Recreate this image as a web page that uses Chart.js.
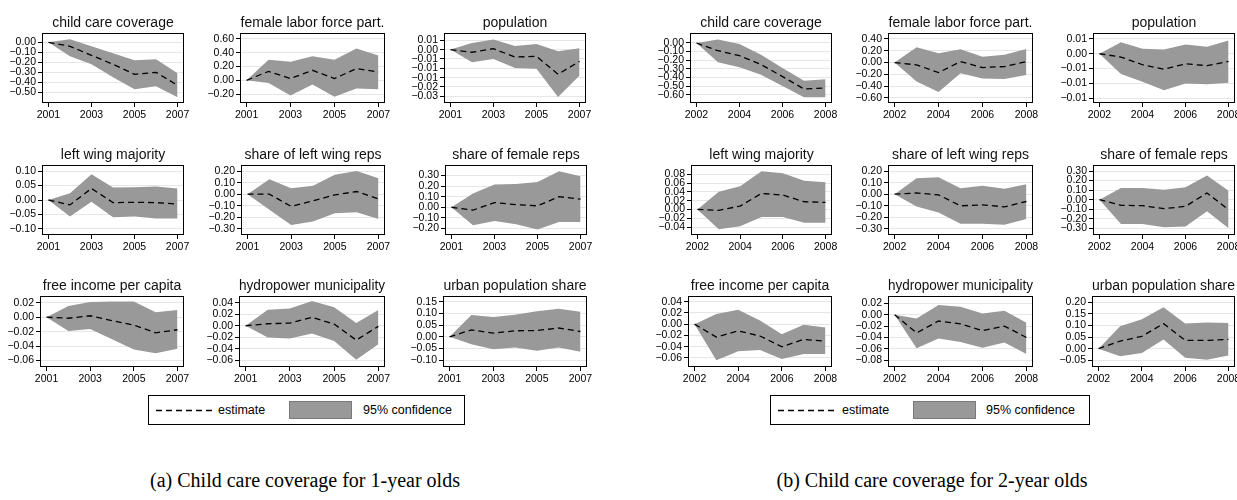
<!DOCTYPE html>
<html><head><meta charset="utf-8">
<script src="https://cdn.jsdelivr.net/npm/chart.js@4.4.1/dist/chart.umd.min.js"></script>
<style>
html,body{margin:0;padding:0;background:#fff}
body{width:1237px;height:500px;overflow:hidden;position:relative;font-family:"Liberation Sans",Arial,sans-serif;color:#000}
.lg{position:absolute;border:1px solid #000;box-sizing:border-box}
.lt{position:absolute;font-size:12.5px;line-height:14px;white-space:nowrap}
.gb{position:absolute;background:#999;border:1px solid #7a7a7a;box-sizing:border-box}
.cap{position:absolute;font-family:"Liberation Serif","Times New Roman",serif;font-size:20px;text-align:center;white-space:nowrap}
</style></head><body>
<script>
// ---------- data ----------
const yearsA = [2001,2002,2003,2004,2005,2006,2007];
const yearsB = [2002,2003,2004,2005,2006,2007,2008];
const xTicksA = [2001,2003,2005,2007];
const xTicksB = [2002,2004,2006,2008];
const titles = ["child care coverage","female labor force part.","population","left wing majority","share of left wing reps","share of female reps","free income per capita","hydropower municipality","urban population share"];

// (a) 1-year olds
const a1_est = [0,-0.04,-0.13,-0.22,-0.32,-0.30,-0.43];
const a1_hi  = [0,0.03,-0.04,-0.11,-0.18,-0.17,-0.31];
const a1_lo  = [0,-0.14,-0.22,-0.35,-0.47,-0.44,-0.55];
const a2_est = [0,0.13,0.025,0.145,0.025,0.17,0.12];
const a2_hi  = [0,0.30,0.27,0.35,0.30,0.46,0.36];
const a2_lo  = [0,-0.04,-0.22,-0.06,-0.24,-0.12,-0.13];
const a3_est = [0,-0.0014,0.0005,-0.004,-0.0036,-0.0132,-0.0063];
const a3_hi  = [0,0.0036,0.0054,0.002,0.003,-0.0009,0.0007];
const a3_lo  = [0,-0.0068,-0.005,-0.0098,-0.0102,-0.0254,-0.0139];
const a4_est = [0,-0.017,0.040,-0.009,-0.008,-0.009,-0.014];
const a4_hi  = [0,0.023,0.089,0.043,0.044,0.047,0.040];
const a4_lo  = [0,-0.057,-0.006,-0.060,-0.057,-0.064,-0.064];
const a5_est = [0,0.00,-0.105,-0.057,-0.006,0.023,-0.04];
const a5_hi  = [0,0.13,0.052,0.072,0.167,0.20,0.138];
const a5_lo  = [0,-0.135,-0.265,-0.235,-0.164,-0.155,-0.213];
const a6_est = [0,-0.028,0.044,0.025,0.013,0.10,0.076];
const a6_hi  = [0,0.13,0.215,0.22,0.24,0.34,0.294];
const a6_lo  = [0,-0.17,-0.13,-0.16,-0.21,-0.14,-0.14];
const a7_est = [0,-0.0014,0.002,-0.0047,-0.011,-0.0216,-0.0174];
const a7_hi  = [0,0.0155,0.021,0.0217,0.0217,0.007,0.010];
const a7_lo  = [0,-0.019,-0.0165,-0.0306,-0.0447,-0.050,-0.0438];
const a8_est = [0,0.0035,0.0047,0.0147,0.003,-0.025,-0.001];
const a8_hi  = [0,0.028,0.030,0.043,0.032,0.0047,0.0276];
const a8_lo  = [0,-0.0206,-0.022,-0.0135,-0.0265,-0.059,-0.032];
const a9_est = [0,0.030,0.016,0.026,0.027,0.038,0.023];
const a9_hi  = [0,0.094,0.085,0.095,0.11,0.12,0.108];
const a9_lo  = [0,-0.032,-0.053,-0.046,-0.059,-0.046,-0.064];

// (b) 2-year olds
const b1_est = [0,-0.09,-0.147,-0.25,-0.39,-0.535,-0.523];
const b1_hi  = [0,0.04,-0.012,-0.136,-0.29,-0.44,-0.42];
const b1_lo  = [0,-0.225,-0.283,-0.37,-0.50,-0.63,-0.63];
const b2_est = [0,-0.04,-0.17,0.017,-0.085,-0.068,0.017];
const b2_hi  = [0,0.26,0.158,0.226,0.10,0.13,0.23];
const b2_lo  = [0,-0.32,-0.50,-0.18,-0.27,-0.28,-0.21];
const b3_est = [0,-0.0011,-0.0037,-0.0052,-0.0034,-0.004,-0.0026];
const b3_hi  = [0,0.0039,0.0017,0.0014,0.0031,0.0024,0.0045];
const b3_lo  = [0,-0.0068,-0.0094,-0.0123,-0.010,-0.0103,-0.0098];
const b4_est = [0,-0.002,0.0076,0.0365,0.0327,0.0175,0.016];
const b4_hi  = [0,0.040,0.053,0.087,0.082,0.065,0.062];
const b4_lo  = [0,-0.045,-0.038,-0.017,-0.017,-0.030,-0.030];
const b5_est = [0,0.011,-0.006,-0.10,-0.092,-0.109,-0.063];
const b5_hi  = [0,0.138,0.147,0.052,0.072,0.046,0.086];
const b5_lo  = [0,-0.106,-0.158,-0.256,-0.256,-0.264,-0.213];
const b6_est = [0,-0.059,-0.063,-0.094,-0.07,0.07,-0.105];
const b6_hi  = [0,0.122,0.122,0.105,0.13,0.254,0.094];
const b6_lo  = [0,-0.254,-0.254,-0.29,-0.28,-0.122,-0.30];
const b7_est = [0,-0.023,-0.012,-0.021,-0.04,-0.027,-0.030];
const b7_hi  = [0,0.018,0.0256,0.0065,-0.018,-0.001,-0.006];
const b7_lo  = [0,-0.064,-0.048,-0.046,-0.062,-0.053,-0.053];
const b8_est = [0,-0.032,-0.011,-0.016,-0.028,-0.020,-0.040];
const b8_hi  = [0,-0.0065,0.017,0.014,0.0024,0.007,-0.014];
const b8_lo  = [0,-0.059,-0.042,-0.048,-0.058,-0.049,-0.069];
const b9_est = [0,0.033,0.053,0.108,0.036,0.036,0.040];
const b9_hi  = [0,0.097,0.127,0.178,0.108,0.113,0.111];
const b9_lo  = [0,-0.033,-0.019,0.039,-0.039,-0.048,-0.029];

// y tick values and labels
const a1_yt = [-0.5,-0.4,-0.3,-0.2,-0.1,0];
const a1_yl = ["\u22120.50","\u22120.40","\u22120.30","\u22120.20","\u22120.10","0.00"];
const a2_yt = [-0.2,0,0.2,0.4,0.6];
const a2_yl = ["\u22120.20","0.00","0.20","0.40","0.60"];
const a3_yt = [-0.025,-0.02,-0.015,-0.01,-0.005,0,0.005];
const a3_yl = ["\u22120.03","\u22120.02","\u22120.01","\u22120.01","\u22120.01","0.00","0.01"];
const a4_yt = [-0.1,-0.05,0,0.05,0.1];
const a4_yl = ["\u22120.10","\u22120.05","0.00","0.05","0.10"];
const a5_yt = [-0.3,-0.2,-0.1,0,0.1,0.2];
const a5_yl = ["\u22120.30","\u22120.20","\u22120.10","0.00","0.10","0.20"];
const a6_yt = [-0.2,-0.1,0,0.1,0.2,0.3];
const a6_yl = ["\u22120.20","\u22120.10","0.00","0.10","0.20","0.30"];
const a7_yt = [-0.06,-0.04,-0.02,0,0.02];
const a7_yl = ["\u22120.06","\u22120.04","\u22120.02","0.00","0.02"];
const a8_yt = [-0.06,-0.04,-0.02,0,0.02,0.04];
const a8_yl = ["\u22120.06","\u22120.04","\u22120.02","0.00","0.02","0.04"];
const a9_yt = [-0.1,-0.05,0,0.05,0.1,0.15];
const a9_yl = ["\u22120.10","\u22120.05","0.00","0.05","0.10","0.15"];
const b1_yt = [-0.6,-0.5,-0.4,-0.3,-0.2,-0.1,0];
const b1_yl = ["\u22120.60","\u22120.50","\u22120.40","\u22120.30","\u22120.20","\u22120.10","0.00"];
const b2_yt = [-0.6,-0.4,-0.2,0,0.2,0.4];
const b2_yl = ["\u22120.60","\u22120.40","\u22120.20","0.00","0.20","0.40"];
const b3_yt = [-0.015,-0.01,-0.005,0,0.005];
const b3_yl = ["\u22120.01","\u22120.01","\u22120.01","0.00","0.01"];
const b4_yt = [-0.04,-0.02,0,0.02,0.04,0.06,0.08];
const b4_yl = ["\u22120.04","\u22120.02","0.00","0.02","0.04","0.06","0.08"];
const b5_yt = [-0.3,-0.2,-0.1,0,0.1,0.2];
const b5_yl = ["\u22120.30","\u22120.20","\u22120.10","0.00","0.10","0.20"];
const b6_yt = [-0.3,-0.2,-0.1,0,0.1,0.2,0.3];
const b6_yl = ["\u22120.30","\u22120.20","\u22120.10","0.00","0.10","0.20","0.30"];
const b7_yt = [-0.06,-0.04,-0.02,0,0.02,0.04];
const b7_yl = ["\u22120.06","\u22120.04","\u22120.02","0.00","0.02","0.04"];
const b8_yt = [-0.08,-0.06,-0.04,-0.02,0,0.02];
const b8_yl = ["\u22120.08","\u22120.06","\u22120.04","\u22120.02","0.00","0.02"];
const b9_yt = [-0.05,0,0.05,0.1,0.15,0.2];
const b9_yl = ["\u22120.05","0.00","0.05","0.10","0.15","0.20"];

// ---------- layout / style ----------
const BAND = '#999999';
const GRID = '#e6e6e6';
const XA = [2000.7, 2007.3], XB = [2001.7, 2008.3];

const panels = [
 {t:0, yr:yearsA, xt:xTicksA, xr:XA, est:a1_est, hi:a1_hi, lo:a1_lo, yt:a1_yt, yl:a1_yl, yr2:[-0.607,0.093], box:[42,33,184,103]},
 {t:1, yr:yearsA, xt:xTicksA, xr:XA, est:a2_est, hi:a2_hi, lo:a2_lo, yt:a2_yt, yl:a2_yl, yr2:[-0.33,0.687], box:[240,33,385,103]},
 {t:2, yr:yearsA, xt:xTicksA, xr:XA, est:a3_est, hi:a3_hi, lo:a3_lo, yt:a3_yt, yl:a3_yl, yr2:[-0.0286,0.0089], box:[444,33,586,103]},
 {t:3, yr:yearsA, xt:xTicksA, xr:XA, est:a4_est, hi:a4_hi, lo:a4_lo, yt:a4_yt, yl:a4_yl, yr2:[-0.121,0.121], box:[42,165,184,235]},
 {t:4, yr:yearsA, xt:xTicksA, xr:XA, est:a5_est, hi:a5_hi, lo:a5_lo, yt:a5_yt, yl:a5_yl, yr2:[-0.352,0.252], box:[241,165,385,235]},
 {t:5, yr:yearsA, xt:xTicksA, xr:XA, est:a6_est, hi:a6_hi, lo:a6_lo, yt:a6_yt, yl:a6_yl, yr2:[-0.263,0.40], box:[445,165,587,235]},
 {t:6, yr:yearsA, xt:xTicksA, xr:XA, est:a7_est, hi:a7_hi, lo:a7_lo, yt:a7_yt, yl:a7_yl, yr2:[-0.069,0.0294], box:[40,296,184,367]},
 {t:7, yr:yearsA, xt:xTicksA, xr:XA, est:a8_est, hi:a8_hi, lo:a8_lo, yt:a8_yt, yl:a8_yl, yr2:[-0.0718,0.0518], box:[239,296,385,367]},
 {t:8, yr:yearsA, xt:xTicksA, xr:XA, est:a9_est, hi:a9_hi, lo:a9_lo, yt:a9_yt, yl:a9_yl, yr2:[-0.129,0.175], box:[443,296,587,367]},
 {t:0, yr:yearsB, xt:xTicksB, xr:XB, est:b1_est, hi:b1_hi, lo:b1_lo, yt:b1_yt, yl:b1_yl, yr2:[-0.697,0.116], box:[690,33,832,103]},
 {t:1, yr:yearsB, xt:xTicksB, xr:XB, est:b2_est, hi:b2_hi, lo:b2_lo, yt:b2_yt, yl:b2_yl, yr2:[-0.685,0.50], box:[888,33,1033,103]},
 {t:2, yr:yearsB, xt:xTicksB, xr:XB, est:b3_est, hi:b3_hi, lo:b3_lo, yt:b3_yt, yl:b3_yl, yr2:[-0.0166,0.007], box:[1093,33,1235,103]},
 {t:3, yr:yearsB, xt:xTicksB, xr:XB, est:b4_est, hi:b4_hi, lo:b4_lo, yt:b4_yt, yl:b4_yl, yr2:[-0.058,0.101], box:[691,165,832,235]},
 {t:4, yr:yearsB, xt:xTicksB, xr:XB, est:b5_est, hi:b5_hi, lo:b5_lo, yt:b5_yt, yl:b5_yl, yr2:[-0.352,0.252], box:[888,165,1033,235]},
 {t:5, yr:yearsB, xt:xTicksB, xr:XB, est:b6_est, hi:b6_hi, lo:b6_lo, yt:b6_yt, yl:b6_yl, yr2:[-0.37,0.363], box:[1093,165,1235,235]},
 {t:6, yr:yearsB, xt:xTicksB, xr:XB, est:b7_est, hi:b7_hi, lo:b7_lo, yt:b7_yt, yl:b7_yl, yr2:[-0.076,0.050], box:[688,296,832,367]},
 {t:7, yr:yearsB, xt:xTicksB, xr:XB, est:b8_est, hi:b8_hi, lo:b8_lo, yt:b8_yt, yl:b8_yl, yr2:[-0.092,0.033], box:[888,296,1033,367]},
 {t:8, yr:yearsB, xt:xTicksB, xr:XB, est:b9_est, hi:b9_hi, lo:b9_lo, yt:b9_yt, yl:b9_yl, yr2:[-0.079,0.227], box:[1092,296,1235,367]}
];

Chart.defaults.font.family = '"Liberation Sans", Arial, sans-serif';
Chart.defaults.color = '#000';

const framePlugin = {
  id: 'frame',
  afterDatasetsDraw(chart) {
    const {ctx, chartArea: a} = chart;
    ctx.save();
    ctx.strokeStyle = '#000';
    ctx.lineWidth = 1;
    const l = Math.round(a.left) + 0.5, t = Math.round(a.top) + 0.5;
    const r = Math.round(a.right) - 0.5, b = Math.round(a.bottom) - 0.5;
    ctx.strokeRect(l, t, r - l, b - t);
    ctx.restore();
  }
};

function makePanel(p) {
  const [L, T, R, B] = p.box;
  const YW = 44, TH = 21, XH = 22, PR = 12;
  const W = YW + (R - L) + PR, H = TH + (B - T) + XH;
  const c = document.createElement('canvas');
  c.width = W; c.height = H;
  c.style.cssText = `position:absolute;left:${L - YW}px;top:${T - TH}px;width:${W}px;height:${H}px`;
  document.body.appendChild(c);
  const pts = arr => p.yr.map((x, i) => ({x: x, y: arr[i]}));
  new Chart(c, {
    type: 'line',
    data: {datasets: [
      {data: pts(p.hi), order: 2, borderWidth: 0, borderColor: 'rgba(0,0,0,0)', pointRadius: 0, fill: false, tension: 0},
      {data: pts(p.lo), order: 1, borderWidth: 0, borderColor: 'rgba(0,0,0,0)', backgroundColor: BAND, pointRadius: 0, fill: '-1', tension: 0},
      {data: pts(p.est), order: 0, borderWidth: 1.3, borderDash: [6, 4], borderColor: '#000', pointRadius: 0, fill: false, tension: 0}
    ]},
    options: {
      responsive: false, animation: false, devicePixelRatio: 1,
      layout: {padding: {left: 0, right: PR, top: 0, bottom: 0}},
      plugins: {
        legend: {display: false}, tooltip: {enabled: false},
        title: {display: true, text: titles[p.t], fullSize: false, color: '#111',
                font: {size: 14, weight: 'normal', lineHeight: 1}, padding: {top: 4, bottom: 3}}
      },
      scales: {
        x: {
          type: 'linear', min: p.xr[0], max: p.xr[1],
          afterBuildTicks: s => { s.ticks = p.xt.map(v => ({value: v})); },
          afterFit: s => { s.height = XH; s.paddingLeft = 0; s.paddingRight = 0; },
          ticks: {callback: v => String(v), autoSkip: false, maxRotation: 0, padding: 1.5, font: {size: 10.5}, color: '#000'},
          grid: {drawOnChartArea: false, drawTicks: true, tickLength: 4, tickColor: '#000'},
          border: {display: false}
        },
        y: {
          min: p.yr2[0], max: p.yr2[1],
          afterBuildTicks: s => { s.ticks = p.yt.map(v => ({value: v})); },
          afterFit: s => { s.width = YW; s.paddingTop = 0; s.paddingBottom = 0; },
          ticks: {callback: (v, i) => p.yl[i], autoSkip: false, padding: 2, font: {size: 10.5}, color: '#000'},
          grid: {color: GRID, lineWidth: 1, drawTicks: true, tickLength: 4, tickColor: '#000'},
          border: {display: false}
        }
      }
    },
    plugins: [framePlugin]
  });
}
panels.forEach(makePanel);
</script>

<!-- legends -->
<div class="lg" style="left:148px;top:395px;width:317px;height:30px"></div>
<svg style="position:absolute;left:155px;top:405px" width="58" height="10"><line x1="1" y1="5.5" x2="57" y2="5.5" stroke="#000" stroke-width="1.3" stroke-dasharray="6,4"/></svg>
<div class="lt" style="left:218px;top:403px">estimate</div>
<div class="gb" style="left:289px;top:401px;width:63px;height:18px"></div>
<div class="lt" style="left:363px;top:403px">95% confidence</div>

<div class="lg" style="left:770px;top:395px;width:320px;height:30px"></div>
<svg style="position:absolute;left:777px;top:405px" width="58" height="10"><line x1="1" y1="5.5" x2="57" y2="5.5" stroke="#000" stroke-width="1.3" stroke-dasharray="6,4"/></svg>
<div class="lt" style="left:842px;top:403px">estimate</div>
<div class="gb" style="left:913px;top:401px;width:63px;height:18px"></div>
<div class="lt" style="left:986px;top:403px">95% confidence</div>

<!-- captions -->
<div class="cap" style="left:0;top:469px;width:610px">(a) Child care coverage for 1-year olds</div>
<div class="cap" style="left:627px;top:469px;width:610px">(b) Child care coverage for 2-year olds</div>
</body></html>
